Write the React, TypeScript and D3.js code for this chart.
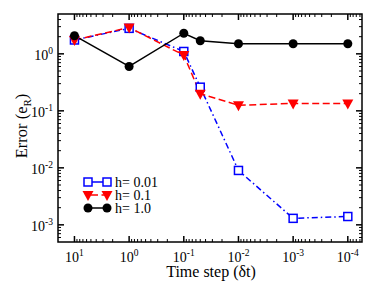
import * as d3 from 'd3'

const steps = [10, 1, 0.1, 0.05, 0.01, 0.001, 0.0001]
const errH001 = [1.75, 2.8, 1.1, 0.26, 0.009, 0.0013, 0.0014]
const errH01 = [1.75, 2.9, 0.95, 0.2, 0.125, 0.135, 0.135]
const errH1 = [2.08, 0.6, 2.3, 1.7, 1.5, 1.5, 1.5]

const xMajor = [1, 0, -1, -2, -3, -4]
const yMajor = [0, -1, -2, -3]
const legendLabels = ['h= 0.01', 'h= 0.1', 'h= 1.0']

const W = 374
const H = 289
const m = { left: 58, right: 12, top: 14, bottom: 47 }
const FONT = '"Liberation Serif", "Times New Roman", serif'

function minorTicks(lo: number, hi: number) {
  const out: number[] = []
  for (let e = Math.floor(Math.log10(lo)) - 1; e <= Math.ceil(Math.log10(hi)); e++) {
    for (let k = 2; k <= 9; k++) {
      const v = k * Math.pow(10, e)
      if (v > lo && v < hi) out.push(v)
    }
  }
  return out
}

export default function App() {
  const x = d3.scaleLog().domain([20, 0.000055]).range([m.left, W - m.right])
  const y = d3.scaleLog().domain([0.0005, 5]).range([H - m.bottom, m.top])
  const x0 = m.left, x1 = W - m.right, y0 = H - m.bottom, y1 = m.top

  const line = d3.line<[number, number]>().x(d => x(d[0])).y(d => y(d[1]))
  const pts = (vals: number[]) => steps.map((s, i) => [s, vals[i]] as [number, number])

  const xMin = minorTicks(0.000055, 20)
  const yMin = minorTicks(0.0005, 5)

  const tri = (cx: number, cy: number) => {
    const w = 5.5
    return `M${cx - w},${cy - 4} L${cx + w},${cy - 4} L${cx},${cy + 6} Z`
  }

  const square = (cx: number, cy: number, k: string) => (
    <rect key={k} x={cx - 4} y={cy - 4} width={8} height={8} fill="white" stroke="#0000ff" strokeWidth={1.5} />
  )

  const legX = [88, 107]
  const legY = [182, 195, 208]

  return (
    <svg width={W} height={H} style={{ position: 'absolute', left: 0, top: 0 }} fontFamily={FONT}>
      <rect width={W} height={H} fill="white" />

      {/* minor ticks */}
      {xMin.map((v, i) => (
        <g key={'xm' + i} stroke="black" strokeWidth={1}>
          <line x1={x(v)} x2={x(v)} y1={y0} y2={y0 - 3} />
          <line x1={x(v)} x2={x(v)} y1={y1} y2={y1 + 3} />
        </g>
      ))}
      {yMin.map((v, i) => (
        <g key={'ym' + i} stroke="black" strokeWidth={1}>
          <line x1={x0} x2={x0 + 3} y1={y(v)} y2={y(v)} />
          <line x1={x1} x2={x1 - 3} y1={y(v)} y2={y(v)} />
        </g>
      ))}
      {/* major ticks + labels */}
      {xMajor.map(e => {
        const px = x(Math.pow(10, e))
        return (
          <g key={'xM' + e}>
            <line x1={px} x2={px} y1={y0} y2={y0 - 6} stroke="black" strokeWidth={1.5} />
            <line x1={px} x2={px} y1={y1} y2={y1 + 6} stroke="black" strokeWidth={1.5} />
            <text x={px} y={262} textAnchor="middle" fontSize={14}>
              10<tspan fontSize={9.5} dy={-6}>{e}</tspan>
            </text>
          </g>
        )
      })}
      {yMajor.map(e => {
        const py = y(Math.pow(10, e))
        return (
          <g key={'yM' + e}>
            <line x1={x0} x2={x0 + 6} y1={py} y2={py} stroke="black" strokeWidth={1.5} />
            <line x1={x1} x2={x1 - 6} y1={py} y2={py} stroke="black" strokeWidth={1.5} />
            <text x={53} y={py + 6} textAnchor="end" fontSize={14}>
              10<tspan fontSize={9.5} dy={-6}>{e}</tspan>
            </text>
          </g>
        )
      })}

      {/* frame */}
      <rect x={x0} y={y1} width={x1 - x0} height={y0 - y1} fill="none" stroke="black" strokeWidth={1.5} />

      {/* series lines */}
      <path d={line(pts(errH001)) ?? ''} fill="none" stroke="#0000ff" strokeWidth={1.5} strokeDasharray="6,3,1.5,3" />
      <path d={line(pts(errH01)) ?? ''} fill="none" stroke="#ff0000" strokeWidth={1.5} strokeDasharray="7,3.5" />
      <path d={line(pts(errH1)) ?? ''} fill="none" stroke="black" strokeWidth={1.5} />

      {/* markers */}
      {steps.map((s, i) => square(x(s), y(errH001[i]), 'sq' + i))}
      {steps.map((s, i) => <path key={'tr' + i} d={tri(x(s), y(errH01[i]))} fill="#ff0000" />)}
      {steps.map((s, i) => <circle key={'ci' + i} cx={x(s)} cy={y(errH1[i])} r={4.5} fill="black" />)}

      {/* legend */}
      <line x1={legX[0]} x2={legX[1]} y1={legY[0]} y2={legY[0]} stroke="#0000ff" strokeWidth={1.5} />
      {square(legX[0], legY[0], 'l0')}
      {square(legX[1], legY[0], 'l1')}
      <line x1={legX[0]} x2={legX[1]} y1={legY[1]} y2={legY[1]} stroke="#ff0000" strokeWidth={1.5} strokeDasharray="7,3.5" strokeDashoffset={-3} />
      <path d={tri(legX[0], legY[1])} fill="#ff0000" />
      <path d={tri(legX[1], legY[1])} fill="#ff0000" />
      <line x1={legX[0]} x2={legX[1]} y1={legY[2]} y2={legY[2]} stroke="black" strokeWidth={1.5} />
      <circle cx={legX[0]} cy={legY[2]} r={4.5} fill="black" />
      <circle cx={legX[1]} cy={legY[2]} r={4.5} fill="black" />
      {legendLabels.map((t, i) => (
        <text key={t} x={115} y={legY[i] + 5} fontSize={14}>{t}</text>
      ))}

      {/* axis titles */}
      <text x={211} y={277} textAnchor="middle" fontSize={16}>Time step (δt)</text>
      <text transform={`translate(27,126) rotate(-90)`} textAnchor="middle" fontSize={16.5}>
        Error (e<tspan fontSize={11} dy={4}>R</tspan><tspan dy={-4}>)</tspan>
      </text>
    </svg>
  )
}
